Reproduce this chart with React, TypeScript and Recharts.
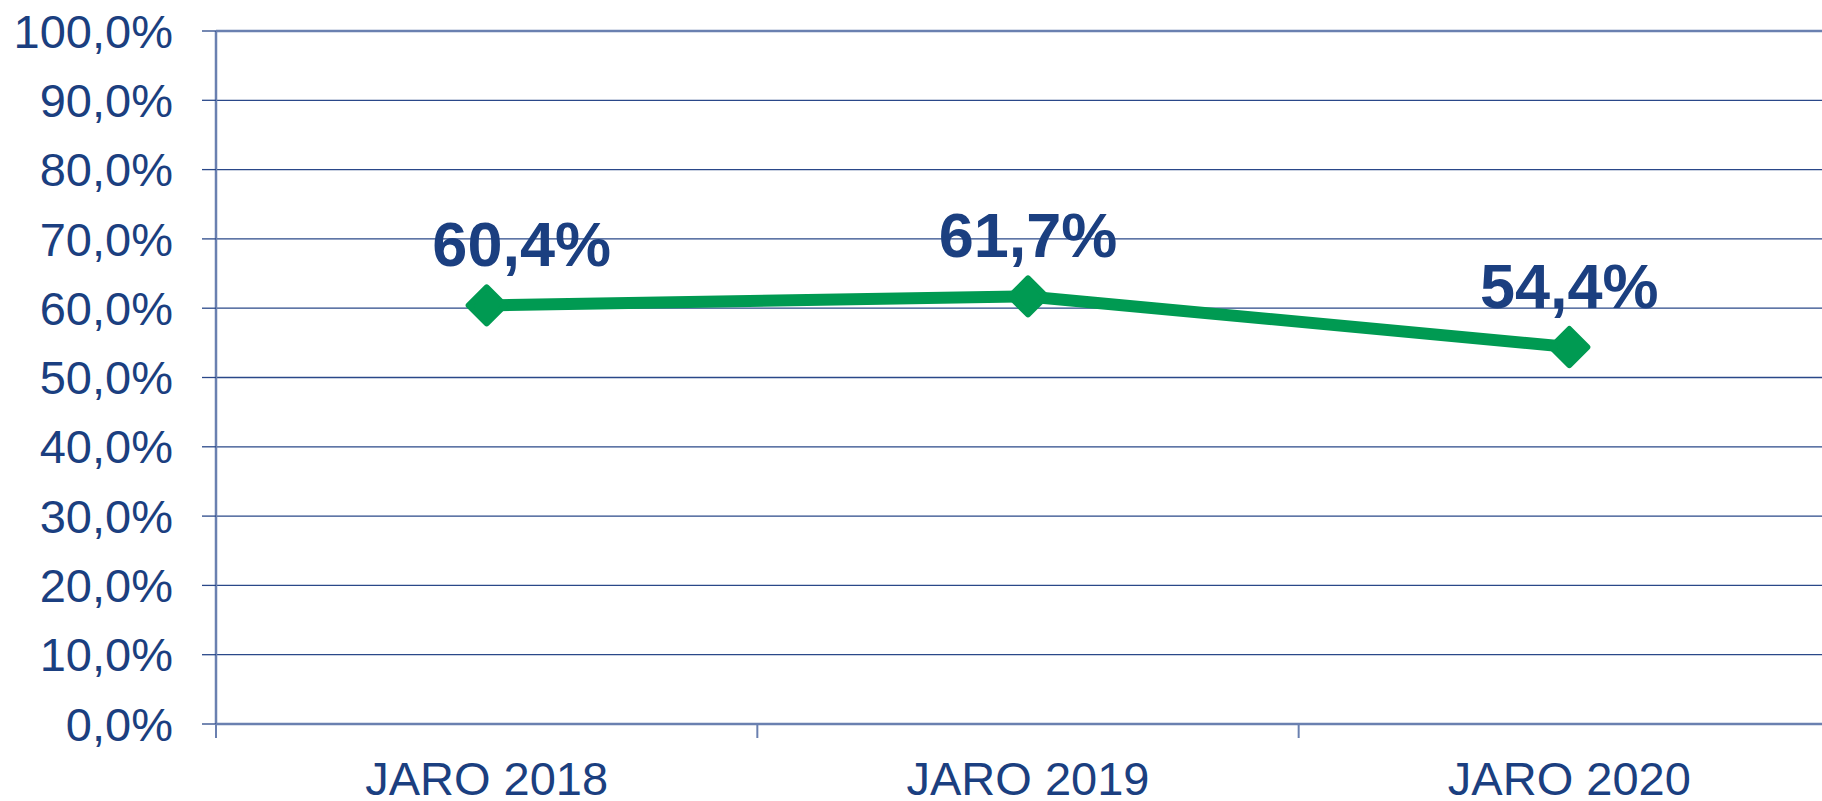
import React from "react";
import {
  CartesianGrid,
  LabelList,
  Line,
  LineChart,
  ReferenceLine,
  XAxis,
  YAxis,
} from "recharts";

const periods = ["JARO 2018", "JARO 2019", "JARO 2020"];
const shares = [60.4, 61.7, 54.4];
const yTicks = [0, 10, 20, 30, 40, 50, 60, 70, 80, 90, 100];

const data = periods.map((period, i) => ({ period, share: shares[i] }));

const NAVY = "#1B3F80";
const GRID = "#2A4889";
const AXIS = "#6A80B0";
const GREEN = "#009A52";
const FONT = "'Liberation Sans', Arial, sans-serif";

const formatPct = (v: number) => `${v.toFixed(1).replace(".", ",")}%`;

function CategoryTick(props: any) {
  const { x, y, payload, index, visibleTicksCount } = props;
  const half = payload.offset ?? 0;
  const isLast = index === visibleTicksCount - 1;
  return (
    <g>
      <line x1={x - half} y1={y} x2={x - half} y2={y + 14} stroke={AXIS} strokeWidth={2} />
      {isLast && (
        <line x1={x + half} y1={y} x2={x + half} y2={y + 14} stroke={AXIS} strokeWidth={2} />
      )}
      <text
        x={x}
        y={y + 71}
        textAnchor="middle"
        fill={NAVY}
        fontSize={47}
        fontFamily={FONT}
      >
        {payload.value}
      </text>
    </g>
  );
}

function DiamondDot(props: any) {
  const { cx, cy } = props;
  if (cx == null || cy == null) return null;
  const r = 18;
  return (
    <polygon
      points={`${cx},${cy - r} ${cx + r},${cy} ${cx},${cy + r} ${cx - r},${cy}`}
      fill={GREEN}
      stroke={GREEN}
      strokeWidth={6}
      strokeLinejoin="round"
    />
  );
}

function ValueLabel(props: any) {
  const { x, y, value, index } = props;
  const shift = index === 0 ? 35 : 0;
  return (
    <text
      x={x + shift}
      y={y - 39}
      textAnchor="middle"
      fill={NAVY}
      fontSize={63}
      fontWeight="bold"
      fontFamily={FONT}
    >
      {formatPct(Number(value))}
    </text>
  );
}

export default function App() {
  return (
    <div
      style={{
        position: "absolute",
        left: 0,
        top: 0,
        width: 1822,
        height: 801,
        overflow: "hidden",
        background: "#fff",
      }}
    >
      <LineChart
        width={1840}
        height={801}
        data={data}
        margin={{ top: 31, right: 0, bottom: 0, left: 0 }}
      >
        <CartesianGrid vertical={false} stroke={GRID} strokeWidth={1.3} />
        <ReferenceLine y={100} stroke={AXIS} strokeWidth={2.5} />
        <XAxis
          dataKey="period"
          scale="band"
          height={77}
          axisLine={{ stroke: AXIS, strokeWidth: 2.5 }}
          tickLine={false}
          tickSize={0}
          tickMargin={0}
          interval={0}
          tick={<CategoryTick />}
        />
        <YAxis
          width={216}
          domain={[0, 100]}
          ticks={yTicks}
          interval={0}
          tickFormatter={formatPct}
          axisLine={{ stroke: AXIS, strokeWidth: 2.5 }}
          tickLine={{ stroke: GRID, strokeWidth: 1.3 }}
          tickSize={14}
          tickMargin={29}
          tick={{ fill: NAVY, fontSize: 47, fontFamily: FONT }}
        />
        <Line
          dataKey="share"
          stroke={GREEN}
          strokeWidth={12}
          dot={<DiamondDot />}
          activeDot={false}
          isAnimationActive={false}
        >
          <LabelList dataKey="share" content={<ValueLabel />} />
        </Line>
      </LineChart>
    </div>
  );
}
